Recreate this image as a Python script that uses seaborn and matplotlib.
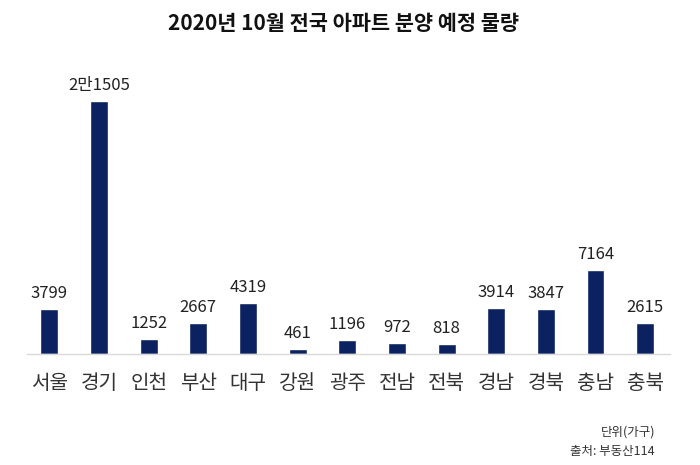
import matplotlib
matplotlib.use('Agg')
import matplotlib.pyplot as plt
import seaborn as sns
import pandas as pd

regions = ['서울', '경기', '인천', '부산', '대구', '강원', '광주', '전남', '전북', '경남', '경북', '충남', '충북']
units = [3799, 21505, 1252, 2667, 4319, 461, 1196, 972, 818, 3914, 3847, 7164, 2615]
value_labels = ['3799', '2만1505', '1252', '2667', '4319', '461', '1196', '972', '818', '3914', '3847', '7164', '2615']

sns.set_theme(style='white')
plt.rcParams['font.family'] = ['Noto Sans CJK KR', 'DejaVu Sans']

df = pd.DataFrame({'region': regions, 'units': units})

fig = plt.figure(figsize=(7, 4.65), dpi=100)
ax = fig.add_axes([27 / 700, 1 - 354 / 465, 643 / 700, 294 / 465])

sns.barplot(data=df, x='region', y='units', color='#0c2260', saturation=1, width=0.36, ax=ax)

for i, (v, lab) in enumerate(zip(units, value_labels)):
    ax.text(i, v + 600, lab, ha='center', va='bottom', fontsize=12, color='#222222')

ax.set_xlim(-0.45, 12.5)
ax.set_ylim(0, 25000)
ax.set_xlabel('')
ax.set_ylabel('')
ax.set_yticks([])
ax.tick_params(axis='x', length=0, pad=14, labelsize=14.5, labelcolor='#333333')
for s in ['top', 'left', 'right']:
    ax.spines[s].set_visible(False)
ax.spines['bottom'].set_color('#d9d9d9')
ax.spines['bottom'].set_linewidth(1)

fig.text(344 / 700, 1 - 24 / 465, '2020년 10월 전국 아파트 분양 예정 물량', ha='center', va='center',
         fontsize=15, fontweight='bold', color='#111111')
fig.text(655 / 700, 1 - 432 / 465, '단위(가구)', ha='right', va='center', fontsize=9, color='#333333')
fig.text(655 / 700, 1 - 451 / 465, '출처: 부동산114', ha='right', va='center', fontsize=9, color='#333333')

fig.savefig('out.png', dpi=100)
